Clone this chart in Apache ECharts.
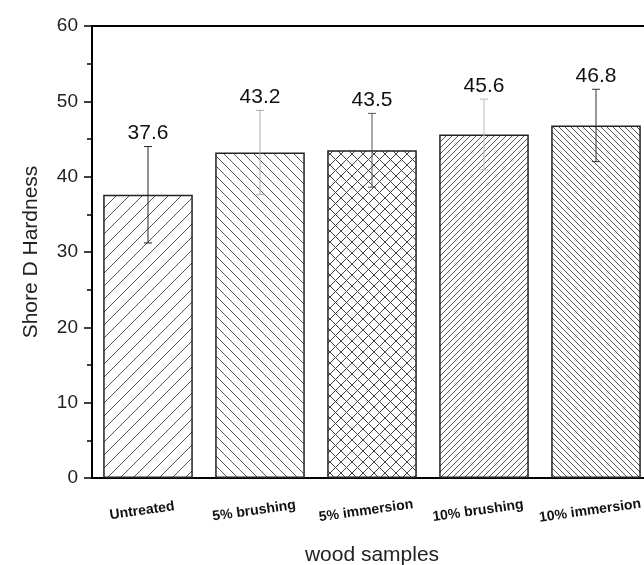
<!DOCTYPE html>
<html>
<head>
<meta charset="utf-8">
<script src="https://cdn.jsdelivr.net/npm/echarts@6/dist/echarts.min.js"></script>
<style>
html,body{margin:0;padding:0;background:#fff;}
#chart{width:644px;height:565px;}
</style>
</head>
<body>
<div id="chart"></div>
<script>
const categories = ['Untreated', '5% brushing', '5% immersion', '10% brushing', '10% immersion'];
const values = [37.6, 43.2, 43.5, 45.6, 46.8];
const errors = [6.4, 5.6, 4.9, 4.7, 4.8];
const valueLabels = ['37.6', '43.2', '43.5', '45.6', '46.8'];
const errColors = ['#222', '#aaa', '#555', '#bbb', '#333'];

function hatch(spacing, dirs, color, lw) {
  const c = document.createElement('canvas');
  c.width = spacing; c.height = spacing;
  const ctx = c.getContext('2d');
  ctx.fillStyle = '#fff';
  ctx.fillRect(0, 0, spacing, spacing);
  ctx.strokeStyle = color;
  ctx.lineWidth = lw;
  const s = spacing;
  dirs.forEach(d => {
    for (let k = -1; k <= 1; k++) {
      ctx.beginPath();
      if (d === '/') { ctx.moveTo(k * s, s); ctx.lineTo(k * s + s, 0); }
      else { ctx.moveTo(k * s, 0); ctx.lineTo(k * s + s, s); }
      ctx.stroke();
    }
  });
  return { image: c, repeat: 'repeat' };
}

const patterns = [
  hatch(13, ['/'], '#555', 1),
  hatch(10, ['\\'], '#555', 1),
  hatch(11, ['/', '\\'], '#444', 1),
  hatch(6, ['/'], '#555', 1),
  hatch(6, ['\\'], '#555', 1)
];

const FONT = '"Liberation Sans", Arial, sans-serif';
const chart = echarts.init(document.getElementById('chart'));
chart.setOption({
  backgroundColor: '#fff',
  animation: false,
  grid: { left: 92, top: 26, bottom: 87, right: -8, outerBoundsMode: 'none', containLabel: false,
    show: true, borderColor: '#000', borderWidth: 2, backgroundColor: 'transparent' },
  xAxis: [{
    type: 'category', data: categories, position: 'bottom',
    axisLine: { lineStyle: { color: '#000', width: 2 } },
    axisTick: { alignWithLabel: true, length: 7, lineStyle: { color: '#000', width: 1.5 } },
    axisLabel: { interval: 0, rotate: 8, align: 'center', verticalAlign: 'middle', margin: 32, padding: [0, 12, 0, 0],
      hideOverlap: false, fontFamily: FONT, fontWeight: 'bold', fontSize: 14, color: '#111' },
    name: 'wood samples', nameLocation: 'middle', nameGap: 67,
    nameTextStyle: { fontFamily: FONT, fontSize: 21, color: '#222' }
  }, {
    type: 'category', data: categories, position: 'bottom',
    axisLine: { show: false },
    axisTick: { alignWithLabel: false, interval: 0, length: 4, lineStyle: { color: '#000', width: 1.5 } },
    axisLabel: { show: false }
  }],
  yAxis: {
    type: 'value', min: 0, max: 60, interval: 10,
    axisLine: { show: true, lineStyle: { color: '#000', width: 2 } },
    axisTick: { show: true, length: 8, lineStyle: { color: '#000', width: 1.5 } },
    minorTick: { show: true, splitNumber: 2, length: 5, lineStyle: { color: '#000', width: 1.5 } },
    splitLine: { show: false },
    axisLabel: { margin: 14, fontFamily: FONT, fontSize: 19, color: '#222' },
    name: 'Shore D Hardness', nameLocation: 'middle', nameGap: 50,
    nameTextStyle: { fontFamily: FONT, fontSize: 21, color: '#222' }
  },
  series: [{
    type: 'bar', barWidth: '80%',
    data: values.map((v, i) => ({ value: v, itemStyle: { color: patterns[i] } })),
    itemStyle: { borderColor: '#222', borderWidth: 1.5 }
  }, {
    type: 'custom',
    data: values.map((v, i) => [i, v, errors[i]]),
    z: 10,
    renderItem: function (params, api) {
      const i = api.value(0), v = api.value(1), e = api.value(2);
      const top = api.coord([i, v + e]);
      const bot = api.coord([i, v - e]);
      const col = errColors[i];
      const hw = 4;
      const st = { stroke: col, lineWidth: 1 };
      return {
        type: 'group',
        children: [
          { type: 'line', shape: { x1: top[0], y1: top[1], x2: bot[0], y2: bot[1] }, style: st },
          { type: 'line', shape: { x1: top[0] - hw, y1: top[1], x2: top[0] + hw, y2: top[1] }, style: st },
          { type: 'line', shape: { x1: bot[0] - hw, y1: bot[1], x2: bot[0] + hw, y2: bot[1] }, style: st },
          { type: 'text', style: { x: top[0], y: top[1] - 13, text: valueLabels[i], align: 'center', verticalAlign: 'middle',
            font: '21px ' + FONT, fill: '#111' } }
        ]
      };
    }
  }]
});
</script>
</body>
</html>
